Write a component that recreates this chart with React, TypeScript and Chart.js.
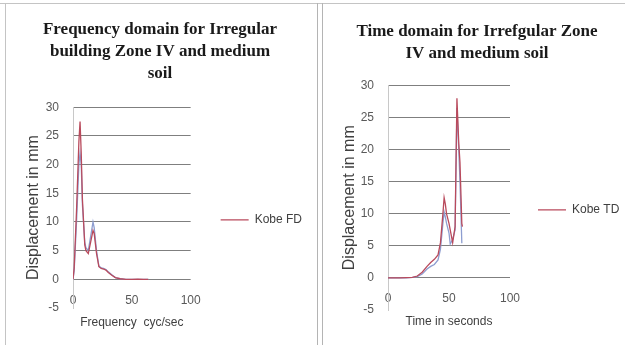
import React, { useEffect, useRef } from "react";
import { Chart, registerables } from "chart.js";

Chart.register(...registerables);

// Frequency domain (left chart)
const fdFreq = [0, 1, 3, 5, 6, 7, 8, 10, 11, 13, 15, 17, 18, 20, 22, 24, 26, 28, 30, 33, 36, 40, 45, 50, 55, 60, 64];
const fdKobe = [0, 2, 12, 24, 27.5, 22, 14, 6, 5, 4.5, 6.5, 8.5, 8, 4.5, 2.2, 1.9, 1.8, 1.6, 1.2, 0.7, 0.3, 0.1, 0, 0, 0.05, 0, 0];
const fdSeries2 = [0, 1.5, 10, 20, 22, 20, 13, 6.5, 5.5, 5, 7.5, 10, 9, 5, 2.3, 2, 1.9, 1.7, 1.3, 0.8, 0.3, 0.1, 0, 0, 0, 0, 0];

// Time domain (right chart)
const tdTime = [0, 5, 10, 15, 20, 24, 28, 32, 35, 38, 41, 43, 45, 46, 47, 48, 50, 51, 53, 55, 56.5, 58, 59, 60.5, 61];
const tdKobe = [0, 0, 0, 0.05, 0.1, 0.3, 0.9, 1.8, 2.4, 2.9, 3.6, 5.5, 10, 12.5, 11.5, 10, 8.5, 7.5, 5.5, 8, 28, 21, 18, 8.5, 8];
const tdSeries2 = [0, 0, 0, 0, 0.1, 0.2, 0.6, 1.4, 1.8, 2.1, 2.8, 4.5, 8.5, 10.3, 9.5, 8.5, 7, 5.3, 6, 7.5, 26.5, 20, 15, 5.5, 5.5];

const yMin = -5;
const yMax = 30;
const yStep = 5;
const xMin = 0;
const xMax = 100;
const xStep = 50;

const leftTitle = ["Frequency domain for Irregular", "building Zone IV and medium", "soil"];
const rightTitle = ["Time domain for Irrefgular Zone", "IV and medium soil"];

type PanelProps = {
  width: number;
  height: number;
  title: string[];
  xTitle: string;
  yTitle: string;
  legendLabel: string;
  xs: number[];
  main: number[];
  second: number[];
  titlePadTop: number;
  titlePadBottom: number;
  padBottom: number;
  padRight: number;
  padLeft: number;
  yTitlePadTop: number;
  yAxisWidth: number;
  legendGap: number;
  legendMaxWidth: number;
};

function ChartPanel(p: PanelProps) {
  const ref = useRef<HTMLCanvasElement | null>(null);
  useEffect(() => {
    if (!ref.current) return;
    const sans = "'Liberation Sans', Arial, sans-serif";
    const chart = new Chart(ref.current, {
      type: "line",
      data: {
        datasets: [
          {
            label: p.legendLabel,
            data: p.xs.map((x, i) => ({ x, y: p.main[i] })),
            borderColor: "#b94a5c",
            backgroundColor: "#b94a5c",
            borderWidth: 1.3,
            pointRadius: 0,
            tension: 0,
            yAxisID: "y",
          },
          {
            label: "Series 2",
            data: p.xs.map((x, i) => ({ x, y: p.second[i] })),
            borderColor: "#8d9dd0",
            backgroundColor: "#8d9dd0",
            borderWidth: 1.3,
            pointRadius: 0,
            tension: 0,
            yAxisID: "y",
          },
        ],
      },
      options: {
        animation: false,
        responsive: false,
        devicePixelRatio: 1,
        layout: { padding: { left: p.padLeft, right: p.padRight, top: 0, bottom: p.padBottom } },
        plugins: {
          title: {
            display: true,
            text: p.title,
            color: "#1a1a1a",
            font: { family: "'Liberation Serif', 'Times New Roman', serif", size: 17, weight: "bold", lineHeight: 1.28 },
            padding: { top: p.titlePadTop, bottom: p.titlePadBottom },
          },
          legend: {
            display: true,
            position: "right",
            fullSize: false,
            maxWidth: p.legendMaxWidth,
            labels: {
              usePointStyle: true,
              pointStyle: "line",
              pointStyleWidth: 28,
              padding: 4,
              color: "#404040",
              font: { family: sans, size: 12 },
              filter: (item: any) => item.datasetIndex === 0,
            },
            title: { display: true, text: " ", padding: 2, font: { size: 17 } },
          },
          tooltip: { enabled: false },
        },
        scales: {
          x: {
            type: "linear",
            min: xMin,
            max: xMax,
            position: { y: 0 } as any,
            ticks: { stepSize: xStep, padding: 14, color: "#595959", font: { family: sans, size: 12 }, maxRotation: 0 },
            grid: { display: false, drawTicks: false },
            border: { display: false },
            title: { display: true, text: p.xTitle, color: "#404040", font: { family: sans, size: 12 }, padding: { top: -6, bottom: 0 } },
          },
          y: {
            type: "linear",
            position: "left",
            min: yMin,
            max: yMax,
            ticks: { stepSize: yStep, padding: 14, color: "#595959", font: { family: sans, size: 12 } },
            grid: {
              drawTicks: false,
              color: (ctx: any) => (ctx.tick && ctx.tick.value === yMin ? "rgba(0,0,0,0)" : "#7f7f7f"),
              lineWidth: 1,
            },
            border: { display: true, color: "#c8c8c8" },
            title: {
              display: true,
              text: p.yTitle,
              color: "#404040",
              font: { family: sans, size: 16 },
              padding: { top: p.yTitlePadTop, bottom: 4 },
            },
            afterFit: (scale: any) => {
              scale.width = p.yAxisWidth;
            },
          },
          gap: {
            type: "linear",
            position: "right",
            display: true,
            ticks: { display: false },
            grid: { display: false, drawTicks: false },
            border: { display: false },
            afterFit: (scale: any) => {
              scale.width = p.legendGap;
            },
          },
        },
      },
    } as any);
    return () => chart.destroy();
  }, []);
  return <canvas ref={ref} width={p.width} height={p.height} style={{ display: "block" }} />;
}

export default function App() {
  return (
    <div style={{ position: "fixed", left: 0, top: 0, width: 625, height: 345, background: "#fff", overflow: "hidden" }}>
      <div style={{ position: "absolute", left: 0, top: 3, width: 625, height: 0, borderTop: "1px solid #c4c4c4" }} />
      <div style={{ position: "absolute", left: 5, top: 3, width: 0, height: 342, borderLeft: "1px solid #c4c4c4" }} />
      <div style={{ position: "absolute", left: 317, top: 3, width: 0, height: 342, borderLeft: "1px solid #b4b4b4" }} />
      <div style={{ position: "absolute", left: 322, top: 3, width: 0, height: 342, borderLeft: "1px solid #b4b4b4" }} />
      <div style={{ position: "absolute", left: 6, top: 4 }}>
        <ChartPanel
          width={311}
          height={341}
          title={leftTitle}
          xTitle={"Frequency  cyc/sec"}
          yTitle={"Displacement in mm"}
          legendLabel={"Kobe FD"}
          xs={fdFreq}
          main={fdKobe}
          second={fdSeries2}
          titlePadTop={15}
          titlePadBottom={23}
          padBottom={37}
          padRight={5}
          padLeft={2}
          yTitlePadTop={16}
          yAxisWidth={65}
          legendGap={26}
          legendMaxWidth={140}
        />
      </div>
      <div style={{ position: "absolute", left: 323, top: 4 }}>
        <ChartPanel
          width={302}
          height={341}
          title={rightTitle}
          xTitle={"Time in seconds"}
          yTitle={"Displacement in mm"}
          legendLabel={"Kobe TD"}
          xs={tdTime}
          main={tdKobe}
          second={tdSeries2}
          titlePadTop={17}
          titlePadBottom={21}
          padBottom={35}
          padRight={0}
          padLeft={6}
          yTitlePadTop={11}
          yAxisWidth={59}
          legendGap={24}
          legendMaxWidth={91}
        />
      </div>
    </div>
  );
}
